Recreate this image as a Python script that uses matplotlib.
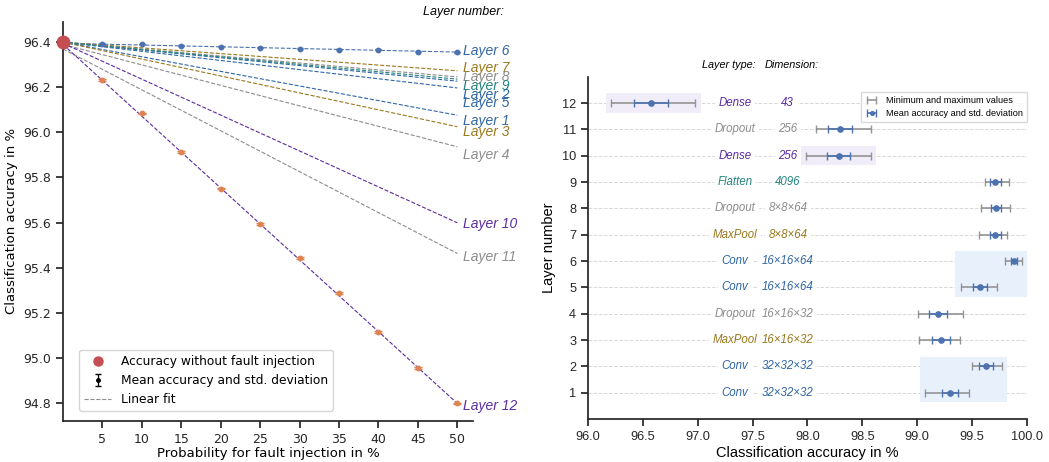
import numpy as np
import matplotlib
matplotlib.use("Agg")
import matplotlib.pyplot as plt
from matplotlib.lines import Line2D
from matplotlib.patches import Rectangle

# ---------------- data: left panel (accuracy vs. fault probability) ----------------
probabilities = [5, 10, 15, 20, 25, 30, 35, 40, 45, 50]
baseline_accuracy = 96.40

fit_layers = [1, 2, 3, 4, 5, 6, 7, 8, 9, 10, 11, 12]
fit_at_0 = [96.40, 96.40, 96.40, 96.39, 96.40, 96.395, 96.40, 96.40, 96.40, 96.395, 96.37, 96.39]
fit_at_50 = [96.076, 96.227, 96.025, 95.936, 96.197, 96.356, 96.273, 96.246, 96.236, 95.599, 95.463, 94.798]

layer6_mean = [96.394, 96.392, 96.384, 96.379, 96.376, 96.370, 96.366, 96.366, 96.357, 96.356]
layer6_std = [0.002, 0.002, 0.002, 0.002, 0.002, 0.002, 0.002, 0.002, 0.002, 0.002]
layer12_mean = [96.232, 96.084, 95.914, 95.751, 95.593, 95.444, 95.289, 95.113, 94.956, 94.798]
layer12_std = [0.004, 0.004, 0.004, 0.004, 0.004, 0.004, 0.004, 0.004, 0.004, 0.004]

# ---------------- data: right panel (per-layer accuracy at fault injection) ----------------
layer_numbers = [1, 2, 3, 4, 5, 6, 7, 8, 9, 10, 11, 12]
layer_types = ['Conv', 'Conv', 'MaxPool', 'Dropout', 'Conv', 'Conv',
               'MaxPool', 'Dropout', 'Flatten', 'Dense', 'Dropout', 'Dense']
dimensions = ['32×32×32', '32×32×32', '16×16×32', '16×16×32', '16×16×64', '16×16×64',
              '8×8×64', '8×8×64', '4096', '256', '256', '43']
acc_mean = [99.301, 99.627, 99.216, 99.189, 99.572, 99.882, 99.711, 99.718, 99.711, 98.287, 98.300, 96.574]
acc_std = [0.075, 0.060, 0.079, 0.082, 0.060, 0.028, 0.050, 0.049, 0.050, 0.105, 0.110, 0.157]
acc_min = [99.071, 99.502, 99.013, 99.004, 99.396, 99.803, 99.566, 99.581, 99.614, 97.990, 98.077, 96.210]
acc_max = [99.469, 99.770, 99.392, 99.414, 99.727, 99.954, 99.821, 99.848, 99.833, 98.578, 98.578, 96.978]

highlight_groups = [(1, 2), (5, 6), (10, 10), (12, 12)]

# ---------------- styles ----------------
type_colors = {
    'Conv': '#2f66a6',
    'MaxPool': '#9a781c',
    'Dropout': '#8c8c8c',
    'Flatten': '#23857f',
    'Dense': '#5a2ca0',
}
highlight_colors = {'Conv': '#e8f0fb', 'Dense': '#f0ecf8'}
# vertical positions of the "Layer n" labels (spread out like in the original)
label_y = {1: 96.049, 2: 96.164, 3: 96.000, 4: 95.899, 5: 96.129, 6: 96.360,
           7: 96.284, 8: 96.244, 9: 96.204, 10: 95.593, 11: 95.446, 12: 94.787}

SANS = ['Liberation Sans', 'DejaVu Sans']
plt.rcParams['font.family'] = 'DejaVu Sans'
plt.rcParams['axes.linewidth'] = 1.25
plt.rcParams['xtick.major.width'] = 1.25
plt.rcParams['ytick.major.width'] = 1.25
plt.rcParams['xtick.major.size'] = 5
plt.rcParams['ytick.major.size'] = 5
plt.rcParams['axes.edgecolor'] = '#262626'
plt.rcParams['xtick.color'] = '#262626'
plt.rcParams['ytick.color'] = '#262626'

fig = plt.figure(figsize=(10.49, 4.62), dpi=100)
ax1 = fig.add_axes([0.060, 0.0887, 0.391, 0.864])
ax2 = fig.add_axes([0.5605, 0.093, 0.4185, 0.741])

# ================= left panel =================
x_fit = np.array([0, 50])
for layer, a0, a50 in zip(fit_layers, fit_at_0, fit_at_50):
    color = type_colors[layer_types[layer - 1]]
    if layer == 6:
        color = '#4c72b0'
    coeffs = np.polyfit(x_fit, [a0, a50], 1)
    ax1.plot(x_fit, np.polyval(coeffs, x_fit), ls='--', lw=0.8, color=color, zorder=2)
    ax1.text(50.7, label_y[layer], f'Layer {layer}', color=type_colors[layer_types[layer - 1]],
             fontsize=10, style='italic', family=SANS, ha='left', va='center', clip_on=False)

ax1.errorbar(probabilities, layer6_mean, yerr=layer6_std, fmt='o', ms=3.2, color='#4c72b0',
             capsize=2, elinewidth=1, zorder=3)
ax1.errorbar(probabilities, layer12_mean, yerr=layer12_std, fmt='o', ms=3.2, color='#dd8452',
             capsize=3, elinewidth=1, zorder=3)
ax1.plot([0], [baseline_accuracy], 'o', ms=9, color='#c44e52', zorder=5, clip_on=False)

h_base = Line2D([], [], marker='o', ls='none', ms=6.5, color='#c44e52')
h_mean = ax1.errorbar([np.nan], [np.nan], yerr=[1], fmt='o', ms=2.5, color='k', capsize=2.5, elinewidth=0.9)
h_fit = Line2D([], [], ls='--', lw=0.8, color='#8c8c8c')
ax1.legend([h_base, h_mean, h_fit],
           ['Accuracy without fault injection', 'Mean accuracy and std. deviation', 'Linear fit'],
           loc='lower left', bbox_to_anchor=(0.025, 0.01), fontsize=8.8, handlelength=2.2)

ax1.set_xlim(0, 52)
ax1.set_ylim(94.72, 96.49)
ax1.set_xticks(probabilities)
ax1.set_yticks([94.8, 95.0, 95.2, 95.4, 95.6, 95.8, 96.0, 96.2, 96.4])
ax1.tick_params(labelsize=9)
ax1.set_xlabel('Probability for fault injection in %', fontsize=9.5, labelpad=1)
ax1.set_ylabel('Classification accuracy in %', fontsize=9.5)
for side in ['top', 'right']:
    ax1.spines[side].set_visible(False)

fig.text(504 / 1049, 1 - 12 / 462, 'Layer number:', fontsize=9, style='italic', family=SANS,
         ha='right', va='center')

# ================= right panel =================
for y in layer_numbers:
    ax2.axhline(y, color='#d8d8d8', ls='--', lw=0.7, zorder=0)

for lo, hi in highlight_groups:
    idx = [n - 1 for n in layer_numbers if lo <= n <= hi]
    x0 = min(acc_min[i] for i in idx) - 0.05
    x1 = min(max(acc_max[i] for i in idx) + 0.05, 100.0)
    ax2.add_patch(Rectangle((x0, lo - 0.37), x1 - x0, hi - lo + 0.74,
                            facecolor=highlight_colors[layer_types[idx[0]]], edgecolor='none', zorder=1))

for n, ltype, dim in zip(layer_numbers, layer_types, dimensions):
    box = dict(facecolor='white', edgecolor='none', pad=2.5)
    ax2.text(97.34, n, ltype, color=type_colors[ltype], fontsize=8.3, style='italic', family=SANS,
             ha='center', va='center', bbox=box, zorder=2)
    ax2.text(97.82, n, dim, color=type_colors[ltype], fontsize=8.3, style='italic', family=SANS,
             ha='center', va='center', bbox=box, zorder=2)

mean = np.array(acc_mean)
xerr_range = [mean - np.array(acc_min), np.array(acc_max) - mean]
h_range = ax2.errorbar(acc_mean, layer_numbers, xerr=xerr_range, fmt='none', ecolor='#8a8a8a',
                       elinewidth=1.2, capsize=3.2, capthick=1, alpha=0.9, zorder=3)
h_std = ax2.errorbar(acc_mean, layer_numbers, xerr=acc_std, fmt='o', ms=3.8, color='#4c72b0',
                     elinewidth=1.2, capsize=3.2, capthick=1, zorder=4)
ax2.legend([h_range, h_std], ['Minimum and maximum values', 'Mean accuracy and std. deviation'],
           loc='upper right', bbox_to_anchor=(1.0, 0.955), borderaxespad=0,
           prop={'family': SANS, 'size': 6.6}, handlelength=1.6, markerscale=0.7,
           fancybox=False, edgecolor='#d0d0d0')

ax2.text(97.28, 13.45, 'Layer type:', fontsize=7.8, style='italic', family=SANS,
         ha='center', va='center', clip_on=False)
ax2.text(97.86, 13.45, 'Dimension:', fontsize=7.8, style='italic', family=SANS,
         ha='center', va='center', clip_on=False)

ax2.set_xlim(96, 100)
ax2.set_ylim(0, 13)
ax2.set_xticks([96.0, 96.5, 97.0, 97.5, 98.0, 98.5, 99.0, 99.5, 100.0])
ax2.set_xticklabels([f'{v:.1f}' for v in [96.0, 96.5, 97.0, 97.5, 98.0, 98.5, 99.0, 99.5, 100.0]])
ax2.set_yticks(layer_numbers)
for lab in ax2.get_xticklabels() + ax2.get_yticklabels():
    lab.set_family(SANS)
    lab.set_fontsize(9.2)
ax2.set_xlabel('Classification accuracy in %', fontsize=10.5, family=SANS, labelpad=2)
ax2.set_ylabel('Layer number', fontsize=10.5, family=SANS)
for side in ['top', 'right']:
    ax2.spines[side].set_visible(False)

fig.savefig('out.png', dpi=100)
